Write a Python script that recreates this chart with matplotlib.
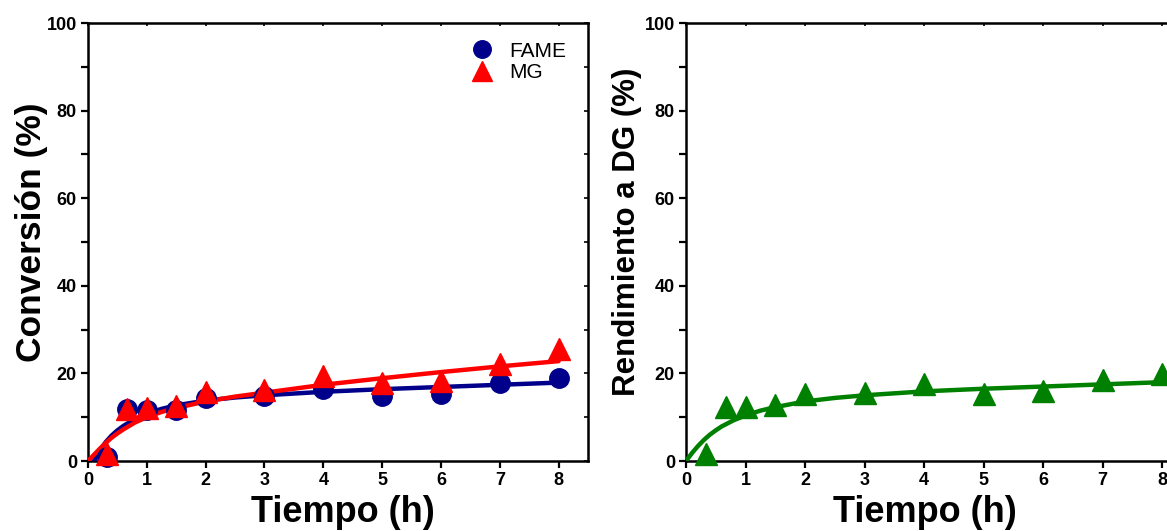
import matplotlib
matplotlib.use("Agg")
import matplotlib.pyplot as plt
from matplotlib.ticker import MultipleLocator

plt.rcParams['font.family'] = ['Liberation Sans', 'DejaVu Sans']

# ---- data ----
t_points = [0.33, 0.67, 1, 1.5, 2, 3, 4, 5, 6, 7, 8]
fame = [1.0, 11.8, 11.7, 11.7, 14.4, 14.8, 16.5, 14.8, 15.2, 17.7, 19.0]
mg = [1.7, 11.9, 12.0, 12.6, 15.8, 16.2, 19.3, 17.7, 18.2, 22.2, 25.5]
dg = [1.6, 12.3, 12.3, 12.7, 15.4, 15.6, 17.6, 15.4, 15.9, 18.5, 19.9]

fit_t = [0, 0.1, 0.2, 0.3, 0.4, 0.5, 0.6, 0.8, 1.0, 1.25, 1.5, 2, 2.5, 3, 4, 5, 6, 7, 8]
fame_fit_t = [0.1, 0.2, 0.3, 0.4, 0.5, 0.6, 0.8, 1.0, 1.25, 1.5, 2, 2.5, 3, 4, 5, 6, 7, 8]
fame_fit = [0.0, 2.4, 4.3, 5.8, 7.0, 8.0, 9.6, 10.8, 11.9, 12.7, 13.8, 14.5, 15.0, 15.8, 16.4, 16.9, 17.4, 17.9]
mg_fit = [0.0, 1.4, 2.8, 4.1, 5.3, 6.3, 7.2, 8.8, 10.0, 11.2, 12.1, 13.6, 14.7, 15.6, 17.4, 18.9, 20.3, 21.6, 22.8]
dg_fit = [0.0, 1.8, 3.4, 4.8, 6.0, 7.0, 7.9, 9.3, 10.4, 11.5, 12.3, 13.6, 14.4, 15.0, 15.9, 16.5, 17.0, 17.5, 18.0]

xticks = [0, 1, 2, 3, 4, 5, 6, 7, 8]
yticks = [0, 20, 40, 60, 80, 100]

W, H = 1167, 531
fig = plt.figure(figsize=(W / 100, H / 100), dpi=100)

ax1 = fig.add_axes([88 / W, 1 - 461 / H, 500 / W, 438 / H])
ax2 = fig.add_axes([686 / W, 1 - 461 / H, 506 / W, 438 / H])

navy = '#00008B'
red = '#FF0000'
green = '#008000'

ax1.plot(fame_fit_t, fame_fit, color=navy, lw=3.2, zorder=3, solid_capstyle='round')
ax1.plot(fit_t, mg_fit, color=red, lw=3.2, zorder=4, solid_capstyle='round')
ax1.plot(t_points, fame, 'o', color=navy, ms=14, mec=navy, label='FAME', zorder=5, clip_on=False)
ax1.plot(t_points, mg, '^', color=red, ms=16.5, mec=red, label='MG', zorder=6, clip_on=False)

ax2.plot(fit_t, dg_fit, color=green, lw=3.2, zorder=3, solid_capstyle='round')
ax2.plot(t_points, dg, '^', color=green, ms=16.5, mec=green, zorder=5, clip_on=False)

for ax in (ax1, ax2):
    ax.set_xlim(0, 8.5)
    ax.set_ylim(0, 100)
    ax.set_xticks(xticks)
    ax.set_yticks(yticks)
    ax.yaxis.set_minor_locator(MultipleLocator(10))
    for s in ax.spines.values():
        s.set_linewidth(1.8)
    ax.tick_params(axis='both', which='major', direction='out', length=5, width=1.6,
                   labelsize=13, pad=3)
    ax.tick_params(axis='y', which='minor', direction='out', length=5, width=1.6)
    for lab in ax.get_xticklabels() + ax.get_yticklabels():
        lab.set_fontweight('bold')
    ax.set_xlabel('Tiempo (h)', fontsize=26, fontweight='bold')
    top = ax.secondary_xaxis('top')
    top.set_xticks(xticks)
    top.tick_params(direction='in', length=2.5, width=1.2)
    top.set_xticklabels([])
    right = ax.secondary_yaxis('right')
    right.set_yticks(yticks)
    right.yaxis.set_minor_locator(MultipleLocator(10))
    right.tick_params(which='both', direction='in', length=3, width=1.2)
    right.set_yticklabels([])

ax1.set_ylabel('Conversión (%)', fontsize=25.5, fontweight='bold')
ax2.set_ylabel('Rendimiento a DG (%)', fontsize=22.5, fontweight='bold')
ax1.yaxis.set_label_coords(-0.08, 0.523)
ax2.yaxis.set_label_coords(-0.087, 0.523)
ax1.xaxis.set_label_coords(0.51, -0.078)
ax2.xaxis.set_label_coords((925 - 686) / 506, -0.078)

leg = ax1.legend(loc='upper right', bbox_to_anchor=(0.994, 1.0), frameon=False, fontsize=15,
                 handletextpad=0.5, labelspacing=0.1, borderaxespad=0.5, markerscale=0.9,
                 handlelength=1.6)

fig.savefig('out.png', dpi=100)
